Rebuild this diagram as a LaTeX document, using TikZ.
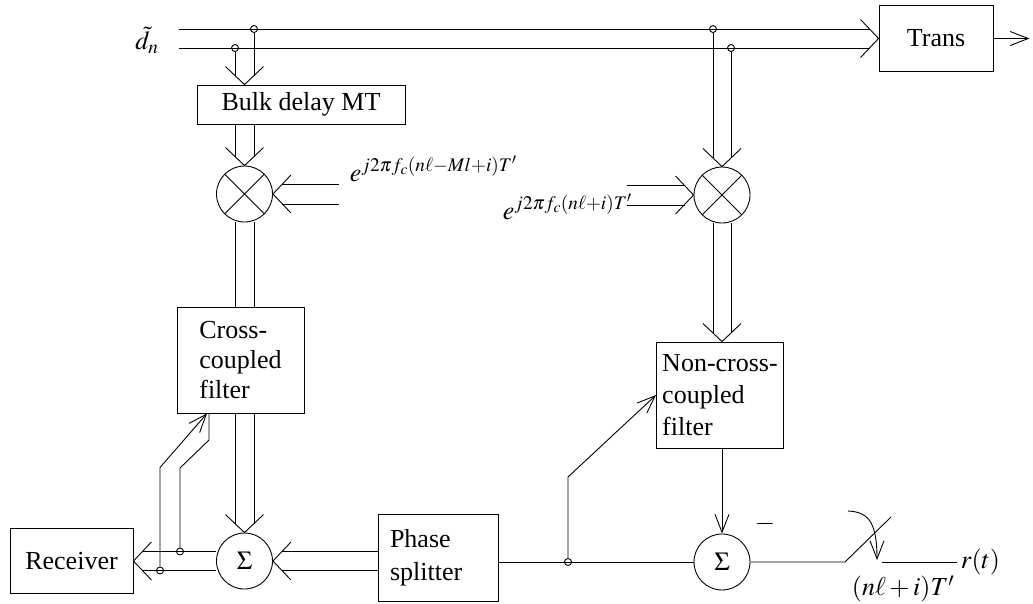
\documentclass[tikz,border=0pt]{standalone}
\usepackage{mathptmx}
\usepackage{fontspec}
\setmainfont{Liberation Serif}
\usepackage{tikz}
\usetikzlibrary{arrows.meta,calc,positioning}

\tikzset{
  box/.style={draw,rectangle,inner sep=0pt},
  mult/.style={draw,circle,minimum size=56pt,inner sep=0pt,
    path picture={\draw (path picture bounding box.north west)--(path picture bounding box.south east)
      (path picture bounding box.north east)--(path picture bounding box.south west);}},
  adder/.style={draw,circle,minimum size=56pt,inner sep=0pt},
  dot/.style={draw,circle,minimum size=7pt,inner sep=0pt},
  pair/.style={shorten >=9pt},
  tip/.style={-{Straight Barb[length=18pt,width=14pt]}},
  vee/.pic={\draw (-18,-19) -- (0,0) -- (-18,19);}
}

\begin{document}
\begin{tikzpicture}[x=1pt,y=-1pt,line width=.9pt,font=\fontsize{26}{30}\selectfont]
\useasboundingbox (0,0) rectangle (1033,603);
% blocks
\node[box,minimum width=208pt,minimum height=39pt] (bulk) at (301,104.5) {Bulk delay MT};
\node[mult] (mulL) at (244.5,194) {};
\node[box,minimum width=127pt,minimum height=106pt,align=left] (cross) at (240.5,360) {Cross-\\coupled\\filter};
\node[adder] (sumL) at (244.5,561) {$\Sigma$};
\node[box,minimum width=123pt,minimum height=65pt] (recv) at (71.5,561) {Receiver};
\node[box,minimum width=120pt,minimum height=87pt,align=left,text width=96pt,
  font=\fontsize{26}{33}\selectfont] (split) at (438,557.5) {Phase\\splitter};
\node[box,minimum width=114pt,minimum height=66pt] (trans) at (936,38.5) {Trans};
\node[mult] (mulR) at (722,195) {};
\node[box,minimum width=127pt,minimum height=106pt,align=left,
  font=\fontsize{26}{32}\selectfont] (ncc) at (720,395) {Non-cross-\\coupled\\filter};
\node[adder] (sumR) at (722,562) {$\Sigma$};

% labels
\node (dn) at (147,40) {$\tilde{d}_n$};
\node[anchor=base west] (expL) at (346,181) {$e^{j2\pi f_c(n\ell-Ml+i)T'}$};
\node[anchor=base west] (expR) at (499,219) {$e^{j2\pi f_c(n\ell+i)T'}$};
\node (neg) at (765,524) {$-$};
\node[anchor=west] (rt) at (957,562) {$r(t)$};
\node (samp) at (903,589) {$(n\ell+i)T'$};

% junctions
\coordinate (inA) at (179,29);
\coordinate (inB) at (179,48);
\node[dot] (dA) at (254,29) {};
\node[dot] (dB) at (235,48) {};
\node[dot] (dC) at (713,29) {};
\node[dot] (dD) at (731,48) {};
\coordinate (pL) at ($(dA)!.5!(dB)$);
\node[dot] (fbA) at (180,551.5) {};
\node[dot] (fbB) at (160,570.5) {};
\node[dot] (fbC) at (568,562) {};

% input bus to Trans
\draw[pair] (inA) -- (inA -| trans.west);
\draw[pair] (inB) -- (inB -| trans.west);
\pic at (trans.west) {vee};
\draw[tip] (trans.east) -- ++(36,0);

% left branch
\draw[pair] (dA) -- (dA |- bulk.north);
\draw[pair] (dB) -- (dB |- bulk.north);
\pic[rotate=-90] at (pL |- bulk.north) {vee};
\draw[pair] (dA |- bulk.south) -- (dA |- mulL.north);
\draw[pair] (dB |- bulk.south) -- (dB |- mulL.north);
\pic[rotate=-90] at (mulL.north) {vee};
\path (mulL) ++(0,-10) coordinate (eA) ++(0,20) coordinate (eB);
\draw[pair] (eA) ++(94,0) -- (eA -| mulL.east);
\draw[pair] (eB) ++(94,0) -- (eB -| mulL.east);
\pic[rotate=180] at (mulL.east) {vee};
\draw (dA |- mulL.south) -- (dA |- cross.north);
\draw (dB |- mulL.south) -- (dB |- cross.north);
\draw[pair] (dA |- cross.south) -- (dA |- sumL.north);
\draw[pair] (dB |- cross.south) -- (dB |- sumL.north);
\pic[rotate=-90] at (sumL.north) {vee};

% bottom bus
\path (sumL) ++(0,-9.5) coordinate (qA) ++(0,19) coordinate (qB);
\draw[pair] (split.west |- qA) -- (sumL.east |- qA);
\draw[pair] (split.west |- qB) -- (sumL.east |- qB);
\pic[rotate=180] at (sumL.east) {vee};
\draw[pair] (sumL.west |- qA) -- (recv.east |- qA);
\draw[pair] (sumL.west |- qB) -- (recv.east |- qB);
\pic[rotate=180] at (recv.east) {vee};
\draw[tip] (fbB) -- ++(0,-103) -- ($(cross.south)+(-33.5,0)$);
\draw (fbA) -- ++(0,-83.5) -- ++(29,-28) -- ($(cross.south)+(-31.5,0)$);

% right branch
\draw[pair] (dC) -- (dC |- mulR.north);
\draw[pair] (dD) -- (dD |- mulR.north);
\pic[rotate=-90] at (mulR.north) {vee};
\path (mulR) ++(0,-10) coordinate (fA) ++(0,20) coordinate (fB);
\draw[pair] (fA) ++(-95,0) -- (fA -| mulR.west);
\draw[pair] (fB) ++(-95,0) -- (fB -| mulR.west);
\pic at (mulR.west) {vee};
\draw[pair] (dC |- mulR.south) -- (dC |- ncc.north);
\draw[pair] (dD |- mulR.south) -- (dD |- ncc.north);
\pic[rotate=-90] at (mulR |- ncc.north) {vee};
\draw[tip] (mulR |- ncc.south) -- (sumR.north);
\draw (split.east |- sumR) -- (sumR.west);
\draw[tip] (fbC) -- ++(0,-85) -- (ncc.west);

% sampler
\coordinate (sw1) at (845,562);
\coordinate (sw2) at (891,517);
\coordinate (sw3) at (848,511);
\coordinate (sw4) at (877,560);
\coordinate (sw5) at (882,562);
\draw (sumR.east) -- (sw1) -- (sw2);
\draw[tip] (sw3) .. controls (867,512) and (877,520) .. (sw4);
\draw (sw5) -- (rt.west);
\end{tikzpicture}
\end{document}
